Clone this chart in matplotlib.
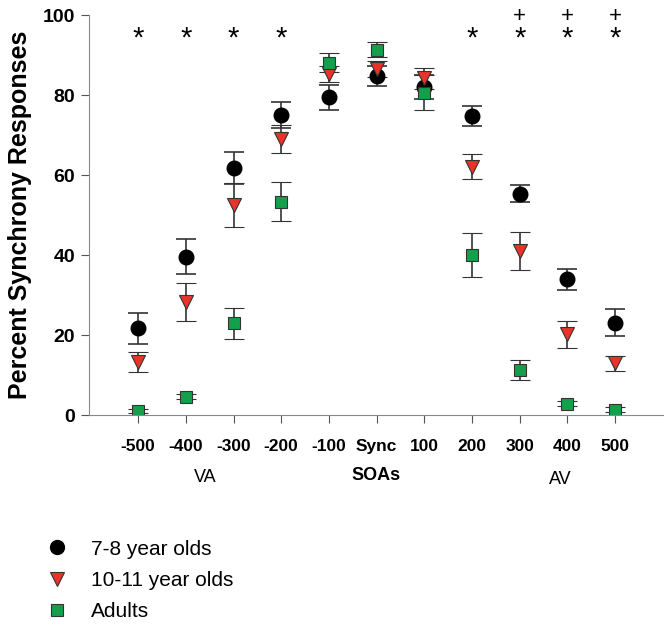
import numpy as np
import matplotlib
matplotlib.use('Agg')
import matplotlib.pyplot as plt
from matplotlib.lines import Line2D

plt.rcParams['font.family'] = ['Liberation Sans', 'DejaVu Sans']

soa_labels = ['-500', '-400', '-300', '-200', '-100', 'Sync', '100', '200', '300', '400', '500']

# 7-8 year olds
kids7_mean = [21.7, 39.6, 61.8, 75.0, 79.4, 84.8, 82.1, 74.8, 55.3, 33.9, 23.1]
kids7_err = [3.9, 4.4, 4.0, 3.2, 3.2, 2.5, 3.0, 2.5, 2.1, 2.6, 3.3]

# 10-11 year olds
kids10_mean = [13.3, 28.3, 52.4, 69.0, 85.3, 86.4, 84.2, 62.1, 41.0, 20.2, 12.9]
kids10_err = [2.5, 4.8, 5.5, 3.6, 2.0, 2.0, 2.6, 3.2, 4.8, 3.4, 1.9]

# adults
adult_mean = [1.1, 4.6, 22.9, 53.3, 88.1, 91.3, 80.6, 40.0, 11.3, 2.8, 1.3]
adult_err = [0.5, 0.6, 3.8, 4.9, 2.3, 1.9, 4.4, 5.6, 2.5, 0.6, 0.6]

star_idx = [0, 1, 2, 3, 7, 8, 9, 10]
plus_idx = [8, 9, 10]

x = np.arange(len(soa_labels))

fig = plt.figure(figsize=(6.72, 6.25), dpi=100)
ax = fig.add_axes([0.1324, 0.336, 0.854, 0.64])

err_kw = dict(ls='none', ecolor='#333333', elinewidth=1.2, capsize=7.5, capthick=1.2)
ax.errorbar(x, kids7_mean, yerr=kids7_err, marker='o', ms=10.5, mfc='black',
            mec='black', **err_kw)
ax.errorbar(x, kids10_mean, yerr=kids10_err, marker='v', ms=10.5, mfc='#e8322a',
            mec='#333333', mew=0.8, **err_kw)
ax.errorbar(x, adult_mean, yerr=adult_err, marker='s', ms=9, mfc='#12a04a',
            mec='#333333', mew=0.8, **err_kw)

for i in star_idx:
    ax.text(x[i], 94.0, '*', ha='center', va='center', fontsize=21, clip_on=False)
for i in plus_idx:
    ax.text(x[i], 99.6, '+', ha='center', va='center', fontsize=16, clip_on=False)

ax.set_xlim(-1.03, 11.0)
ax.set_ylim(0, 100)
ax.set_yticks([0, 20, 40, 60, 80, 100])
ax.set_xticks(x)
ax.set_xticklabels(soa_labels, fontsize=12.5, fontweight='bold')
for lab in ax.get_yticklabels():
    lab.set_fontsize(14)
    lab.set_fontweight('bold')

for side in ['top', 'right']:
    ax.spines[side].set_visible(False)
for side in ['left', 'bottom']:
    ax.spines[side].set_color('#888888')
ax.tick_params(axis='x', direction='out', length=6, color='#555555', pad=11)
ax.tick_params(axis='y', direction='out', length=6, color='#555555', pad=4)

ax.set_ylabel('Percent Synchrony Responses', fontsize=18, fontweight='bold', labelpad=8)

fig.text(205 / 672, 1 - 478 / 625, 'VA', ha='center', va='center', fontsize=13)
fig.text(376 / 672, 1 - 476 / 625, 'SOAs', ha='center', va='center', fontsize=13,
         fontweight='bold')
fig.text(560 / 672, 1 - 480 / 625, 'AV', ha='center', va='center', fontsize=13)

handles = [
    Line2D([], [], ls='none', marker='o', ms=10, mfc='black', mec='black'),
    Line2D([], [], ls='none', marker='v', ms=10, mfc='#e8322a', mec='#333333', mew=0.8),
    Line2D([], [], ls='none', marker='s', ms=9, mfc='#12a04a', mec='#333333', mew=0.8),
]
fig.legend(handles, ['7-8 year olds', '10-11 year olds', 'Adults'],
           loc='upper left', bbox_to_anchor=(24 / 672, 1 - 521 / 625),
           frameon=False, fontsize=15, handletextpad=0.9, labelspacing=0.58,
           handlelength=1.4)

fig.savefig('out.png', dpi=100)
